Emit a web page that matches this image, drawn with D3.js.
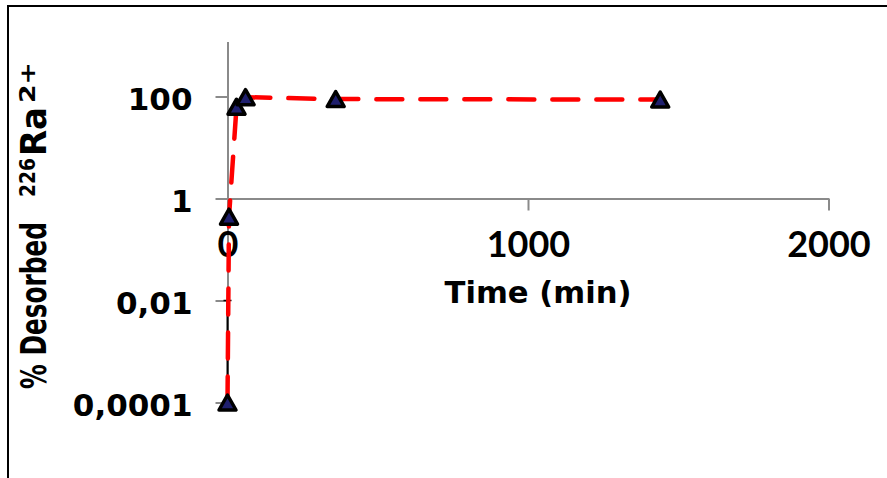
<!DOCTYPE html>
<html>
<head>
<meta charset="utf-8">
<script src="https://cdn.jsdelivr.net/npm/d3@7"></script>
<style>
  html, body { margin: 0; padding: 0; background: #fff; }
  svg { display: block; }
</style>
</head>
<body>
<svg id="chart" width="887" height="478"></svg>
<script>
// Desorption kinetics of 226Ra2+ : time (min) vs % desorbed (log scale)
const times = [0, 5, 30, 60, 360, 1440];
const desorbed = [0.0001, 0.44, 63, 97, 89, 87];
const errorTop = [0.01, null, null, null, null, null];

const xTicks = [0, 1000, 2000];
const xTickLabels = ["0", "1000", "2000"];
const yTicks = [0.0001, 0.01, 1, 100];
const yTickLabels = ["0,0001", "0,01", "1", "100"];

const xTitle = "Time (min)";
const yTitleParts = [
  { text: "% Desorbed", sup: false },
  { text: "226", sup: true },
  { text: "Ra", sup: false },
  { text: "2+", sup: true }
];

const svg = d3.select("#chart");
const W = 887, H = 478;

svg.append("rect").attr("width", W).attr("height", H).attr("fill", "#fff");

// outer frame (only top and left edges fall inside the view)
svg.append("rect")
  .attr("x", 8).attr("y", 6)
  .attr("width", 900).attr("height", 500)
  .attr("fill", "none").attr("stroke", "#000").attr("stroke-width", 2);

const x = d3.scaleLinear().domain([0, 2000]).range([227.5, 828.5]);
const y = d3.scaleLog().domain([1e-4, 1e3]).range([402.5, 45.5]);

const axisColor = "#8a8a8a";

// y axis
const yAxis = svg.append("g")
  .attr("transform", `translate(${x(0)},0)`)
  .call(d3.axisLeft(y)
    .tickValues(yTicks)
    .tickSize(12)
    .tickSizeOuter(0)
    .tickPadding(23)
    .tickFormat((d, i) => yTickLabels[i]));
yAxis.select(".domain").attr("stroke", axisColor).attr("stroke-width", 2)
  .attr("d", `M0.5,${y(1e3) - 3.5}V${y(1e-4)}`);
yAxis.selectAll(".tick line").attr("stroke", axisColor).attr("stroke-width", 2);
yAxis.selectAll(".tick text")
  .attr("fill", "#000")
  .attr("dy", "0.41em")
  .style("font-family", "'DejaVu Sans', sans-serif")
  .style("font-weight", "bold")
  .style("font-size", "31px");

// x axis, crossing at y = 1
const xAxis = svg.append("g")
  .attr("transform", `translate(0,${y(1)})`)
  .call(d3.axisBottom(x)
    .tickValues(xTicks)
    .tickSize(12)
    .tickSizeOuter(0)
    .tickPadding(21)
    .tickFormat((d, i) => xTickLabels[i]));
xAxis.select(".domain").attr("stroke", axisColor).attr("stroke-width", 2);
xAxis.selectAll(".tick line").attr("stroke", axisColor).attr("stroke-width", 2);
xAxis.selectAll(".tick text")
  .attr("fill", "#000")
  .style("font-family", "Lato, sans-serif")
  .style("font-weight", "bold")
  .style("font-size", "36px");

// x axis title
svg.append("text")
  .attr("x", 538).attr("y", 303)
  .attr("text-anchor", "middle")
  .attr("textLength", 187)
  .attr("lengthAdjust", "spacingAndGlyphs")
  .style("font-family", "'DejaVu Sans', sans-serif")
  .style("font-weight", "bold")
  .style("font-size", "31px")
  .text(xTitle);

// y axis title, rotated, built from normal and superscript runs
const yTitle = svg.append("g").attr("transform", "translate(46,0) rotate(-90)");
const runStarts = [389, 197, 156, 103];
const runLengths = [167, 39, 49, 41];
yTitleParts.forEach((p, i) => {
  yTitle.append("text")
    .attr("x", -runStarts[i])
    .attr("y", p.sup ? -11 : 0)
    .attr("textLength", runLengths[i])
    .attr("lengthAdjust", "spacingAndGlyphs")
    .style("font-family", "'DejaVu Sans', sans-serif")
    .style("font-weight", "bold")
    .style("font-size", p.sup ? "22px" : "35px")
    .text(p.text);
});

const data = times.map((t, i) => ({ t, v: desorbed[i], e: errorTop[i] }));

// error bar
const eb = svg.append("g");
data.filter(d => d.e != null).forEach(d => {
  eb.append("line")
    .attr("x1", x(d.t)).attr("x2", x(d.t))
    .attr("y1", y(d.v)).attr("y2", y(d.e))
    .attr("stroke", "#000").attr("stroke-width", 2);
  eb.append("line")
    .attr("x1", x(d.t) - 4).attr("x2", x(d.t) + 4)
    .attr("y1", y(d.e)).attr("y2", y(d.e))
    .attr("stroke", "#000").attr("stroke-width", 1.5);
});

// dashed series line
const line = d3.line().x(d => x(d.t)).y(d => y(d.v));
svg.append("path")
  .datum(data)
  .attr("d", line)
  .attr("fill", "none")
  .attr("stroke", "#ff0000")
  .attr("stroke-width", 4.5)
  .attr("stroke-linecap", "round")
  .attr("stroke-dasharray", "26 18");

// triangle markers
const tw = 17, th = 15;
const tri = `M0,${-th / 2}L${tw / 2},${th / 2}L${-tw / 2},${th / 2}Z`;
svg.append("g").selectAll("path")
  .data(data)
  .join("path")
  .attr("transform", d => `translate(${x(d.t)},${y(d.v)})`)
  .attr("d", tri)
  .attr("fill", "#1f1f6e")
  .attr("stroke", "#000")
  .attr("stroke-width", 3.5)
  .attr("stroke-linejoin", "round");
</script>
</body>
</html>
